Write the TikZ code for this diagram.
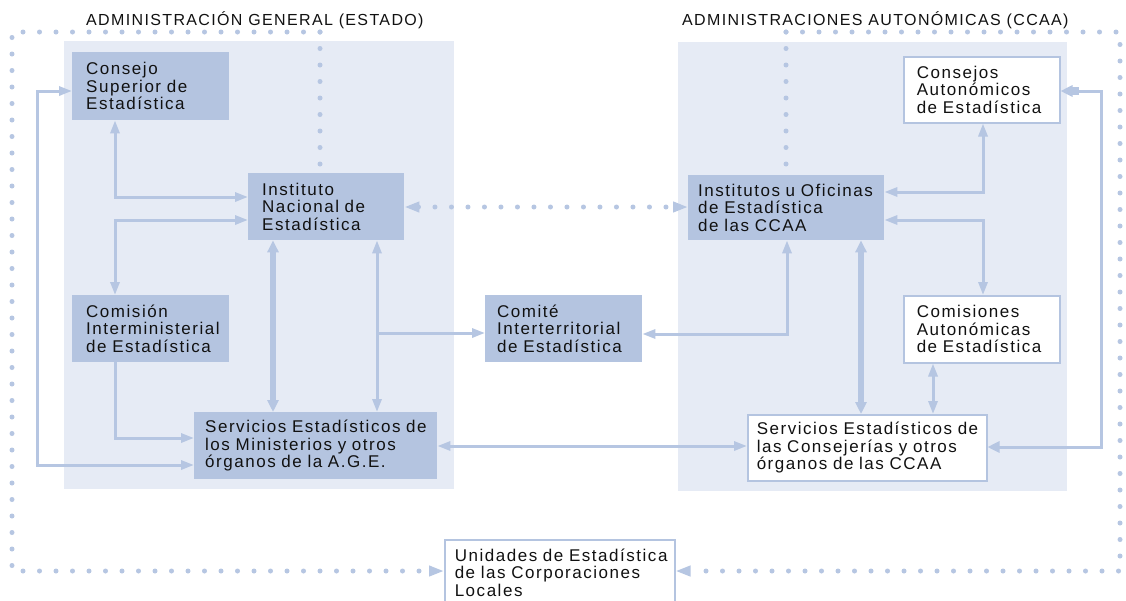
\documentclass[tikz,border=0pt]{standalone}
\usepackage{fontspec}
\setmainfont{Liberation Sans}[LetterSpace=9]
\newfontfamily\hdrfont{Liberation Sans}[LetterSpace=8.5]
\usetikzlibrary{arrows.meta,calc}
\definecolor{boxblue}{HTML}{B4C4E0}
\definecolor{panelblue}{HTML}{E6EBF5}
\definecolor{linkblue}{HTML}{B6C6E2}
\definecolor{txt}{HTML}{111111}
\tikzset{
  box/.style={anchor=north west, inner xsep=13pt, inner ysep=0pt, align=left,
    font=\fontsize{17}{17.5}\selectfont, text=txt},
  darkbox/.style={box, fill=boxblue},
  whitebox/.style={box, fill=white, draw=boxblue, line width=1.5pt},
  panel/.style={fill=panelblue},
  hdr/.style={anchor=base west, inner sep=0pt, font=\hdrfont\fontsize{16}{17}\selectfont, text=txt},
  link/.style={draw=linkblue, line width=3pt, >={Triangle[length=13pt,width=9pt]}},
  thicklink/.style={draw=linkblue, line width=6pt, >={Triangle[length=12pt,width=11pt]}},
  dotlink/.style={draw=linkblue, line width=5pt, line cap=round,
    dash pattern=on 0pt off 16.5pt, >={Triangle[length=15pt,width=10pt]}},
}
\begin{document}
\begin{tikzpicture}[x=1pt,y=-1pt]
\useasboundingbox (0,0) rectangle (1126,600);
\clip (0,0) rectangle (1126,600);
\fill[white] (0,0) rectangle (1126,600);

% panels
\fill[panel] (64,41) rectangle (454,489);
\fill[panel] (678,42) rectangle (1067,491);

% headers
\node[hdr] (h1) at (86,25) {ADMINISTRACIÓN GENERAL (ESTADO)};
\node[hdr] (h2) at (682,25) {ADMINISTRACIONES AUTONÓMICAS (CCAA)};

% boxes
\node[darkbox, inner xsep=14pt, text width=129pt, minimum height=68pt] (cs) at (72,52)
  {Consejo\\Superior~de\\Estadística};
\node[darkbox, inner xsep=14pt, text width=128pt, minimum height=67pt] (ine) at (248,173)
  {Instituto\\Nacional~de\\Estadística};
\node[darkbox, inner xsep=14pt, text width=129pt, minimum height=67pt] (cie) at (72,295)
  {Comisión\\Interministerial\\de~Estadística};
\node[darkbox, inner xsep=11pt, text width=221pt, minimum height=67pt] (sem) at (194,412)
  {Servicios~Estadísticos~de\\los~Ministerios~y~otros\\órganos~de~la~A.G.E.};
\node[darkbox, inner xsep=12pt, text width=133pt, minimum height=67pt] (cit) at (485,295)
  {Comité\\Interterritorial\\de~Estadística};
\node[darkbox, inner xsep=10pt, text width=176pt, minimum height=65pt] (ioe) at (688,175)
  {Institutos~u~Oficinas\\de~Estadística\\de~las~CCAA};
\node[whitebox, inner xsep=13pt, text width=130pt, minimum height=66pt] (cae) at (903,56)
  {Consejos\\Autonómicos\\de~Estadística};
\node[whitebox, inner xsep=13pt, text width=130pt, minimum height=67pt] (cma) at (903,295)
  {Comisiones\\Autonómicas\\de~Estadística};
\node[whitebox, inner xsep=9pt, text width=221pt, minimum height=66pt] (sec) at (747,414)
  {Servicios~Estadísticos~de\\las~Consejerías~y~otros\\órganos~de~las~CCAA};
\node[whitebox, inner xsep=10pt, text width=210pt, minimum height=66pt] (uni) at (444,539)
  {Unidades~de~Estadística\\de~las~Corporaciones\\Locales};

% connectors
\draw[link,<->] (cs.west |- 0,91) -- ++(-35,0) |- (sem.west |- 0,465);
\draw[link,<->] (115,0 |- cs.south) |- (ine.west |- 0,197);
\draw[link,<->] (ine.west |- 0,220) -| (115,0 |- cie.north);
\draw[link,->] (115,0 |- cie.south) |- (sem.west |- 0,438);
\draw[thicklink,<->] (273,0 |- ine.south) -- (273,0 |- sem.north);
\draw[link,<->] (377,0 |- ine.south) -- (377,0 |- sem.north);
\coordinate (br) at (377,333);
\draw[link,->] (br) -- (cit.west |- br);
\draw[link,<->] (787,0 |- ioe.south) |- (cit.east |- 0,334);
\draw[thicklink,<->] (861,0 |- ioe.south) -- (861,0 |- sec.north);
\draw[link,<->] (ioe.east |- 0,192) -| (983,0 |- cae.south);
\draw[link,<->] (ioe.east |- 0,220) -| (983,0 |- cma.north);
\draw[link,<->] (933,0 |- cma.south) -- (933,0 |- sec.north);
\draw[link,<->, >={Triangle[length=12pt,width=11pt]}] (sec.east |- 0,447) -| (1101,91) -- (cae.east |- 0,91);
\draw[draw=linkblue, line width=8pt] ($(cae.east |- 0,91)+(10,0)$) -- ++(8,0);
\draw[link,<->] (sem.east |- 0,446) -- (sec.west |- 0,446);

% dotted connectors
\coordinate (tl) at (320,32);
\coordinate (tr) at (786,32);
\draw[dotlink,<->] (ine.east |- 0,207) -- (ioe.west |- 0,207);
\draw[dotlink] (tl) -- (320,0 |- ine.north);
\draw[dotlink] (tr) -- (786,0 |- ioe.north);
\draw[dotlink,->] (tl) -- (12,32) -- (12,571) -- (uni.west |- 0,571);
\draw[dotlink,->] (tr) -- (1120,32) -- (1120,571) -- (uni.east |- 0,571);
\end{tikzpicture}
\end{document}
